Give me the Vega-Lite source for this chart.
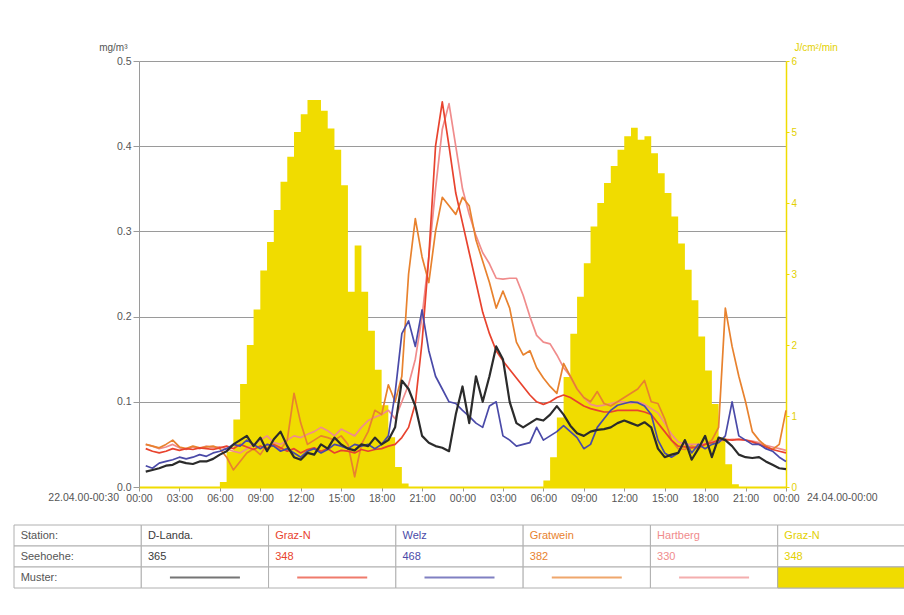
{
  "$schema": "https://vega.github.io/schema/vega-lite/v6.json",
  "background": "white",
  "padding": {"left": 13, "top": 42, "right": 0, "bottom": 0},
  "spacing": 20,
  "config": {
    "font": "Liberation Sans",
    "view": {"stroke": null}
  },
  "resolve": {"scale": {"color": "independent"}},
  "datasets": {
    "series": [
      {"h":0.5,"dl":0.018,"gn":0.045,"we":0.025,"gw":0.050,"hb":0.050,"rad":0},
      {"h":1.0,"dl":0.020,"gn":0.042,"we":0.022,"gw":0.048,"hb":0.048,"rad":0},
      {"h":1.5,"dl":0.022,"gn":0.040,"we":0.028,"gw":0.046,"hb":0.045,"rad":0},
      {"h":2.0,"dl":0.025,"gn":0.042,"we":0.030,"gw":0.050,"hb":0.047,"rad":0},
      {"h":2.5,"dl":0.026,"gn":0.045,"we":0.032,"gw":0.055,"hb":0.050,"rad":0},
      {"h":3.0,"dl":0.030,"gn":0.043,"we":0.035,"gw":0.047,"hb":0.046,"rad":0},
      {"h":3.5,"dl":0.028,"gn":0.045,"we":0.033,"gw":0.045,"hb":0.044,"rad":0},
      {"h":4.0,"dl":0.027,"gn":0.044,"we":0.035,"gw":0.048,"hb":0.047,"rad":0},
      {"h":4.5,"dl":0.030,"gn":0.046,"we":0.038,"gw":0.046,"hb":0.045,"rad":0},
      {"h":5.0,"dl":0.030,"gn":0.045,"we":0.036,"gw":0.047,"hb":0.048,"rad":0},
      {"h":5.5,"dl":0.033,"gn":0.044,"we":0.040,"gw":0.048,"hb":0.046,"rad":0},
      {"h":6.0,"dl":0.038,"gn":0.046,"we":0.042,"gw":0.045,"hb":0.047,"rad":0},
      {"h":6.5,"dl":0.042,"gn":0.048,"we":0.045,"gw":0.035,"hb":0.045,"rad":0.07},
      {"h":7.0,"dl":0.050,"gn":0.045,"we":0.050,"gw":0.020,"hb":0.042,"rad":0.50},
      {"h":7.5,"dl":0.055,"gn":0.050,"we":0.048,"gw":0.030,"hb":0.040,"rad":0.95},
      {"h":8.0,"dl":0.060,"gn":0.047,"we":0.055,"gw":0.040,"hb":0.045,"rad":1.45},
      {"h":8.5,"dl":0.048,"gn":0.044,"we":0.050,"gw":0.045,"hb":0.050,"rad":2.0},
      {"h":9.0,"dl":0.058,"gn":0.048,"we":0.045,"gw":0.038,"hb":0.055,"rad":2.5},
      {"h":9.5,"dl":0.042,"gn":0.045,"we":0.050,"gw":0.050,"hb":0.060,"rad":3.05},
      {"h":10.0,"dl":0.056,"gn":0.050,"we":0.048,"gw":0.048,"hb":0.052,"rad":3.45},
      {"h":10.5,"dl":0.065,"gn":0.046,"we":0.042,"gw":0.044,"hb":0.050,"rad":3.9},
      {"h":11.0,"dl":0.048,"gn":0.042,"we":0.045,"gw":0.055,"hb":0.055,"rad":4.3},
      {"h":11.5,"dl":0.035,"gn":0.045,"we":0.040,"gw":0.110,"hb":0.060,"rad":4.65},
      {"h":12.0,"dl":0.032,"gn":0.040,"we":0.035,"gw":0.075,"hb":0.058,"rad":5.0},
      {"h":12.5,"dl":0.040,"gn":0.044,"we":0.042,"gw":0.050,"hb":0.062,"rad":5.25},
      {"h":13.0,"dl":0.038,"gn":0.046,"we":0.045,"gw":0.055,"hb":0.065,"rad":5.45},
      {"h":13.5,"dl":0.050,"gn":0.042,"we":0.040,"gw":0.060,"hb":0.070,"rad":5.45},
      {"h":14.0,"dl":0.045,"gn":0.045,"we":0.044,"gw":0.058,"hb":0.066,"rad":5.3},
      {"h":14.5,"dl":0.058,"gn":0.040,"we":0.050,"gw":0.055,"hb":0.060,"rad":5.05},
      {"h":15.0,"dl":0.050,"gn":0.043,"we":0.048,"gw":0.060,"hb":0.068,"rad":4.75},
      {"h":15.5,"dl":0.045,"gn":0.042,"we":0.045,"gw":0.050,"hb":0.064,"rad":4.25},
      {"h":16.0,"dl":0.043,"gn":0.040,"we":0.050,"gw":0.012,"hb":0.060,"rad":2.75},
      {"h":16.5,"dl":0.050,"gn":0.044,"we":0.048,"gw":0.050,"hb":0.070,"rad":3.4},
      {"h":17.0,"dl":0.048,"gn":0.042,"we":0.050,"gw":0.065,"hb":0.078,"rad":2.75},
      {"h":17.5,"dl":0.058,"gn":0.044,"we":0.045,"gw":0.090,"hb":0.082,"rad":2.2},
      {"h":18.0,"dl":0.050,"gn":0.045,"we":0.050,"gw":0.085,"hb":0.085,"rad":1.65},
      {"h":18.5,"dl":0.055,"gn":0.048,"we":0.060,"gw":0.120,"hb":0.090,"rad":1.15},
      {"h":19.0,"dl":0.070,"gn":0.050,"we":0.110,"gw":0.100,"hb":0.080,"rad":0.7},
      {"h":19.5,"dl":0.125,"gn":0.058,"we":0.180,"gw":0.130,"hb":0.100,"rad":0.28},
      {"h":20.0,"dl":0.115,"gn":0.070,"we":0.195,"gw":0.250,"hb":0.120,"rad":0.05},
      {"h":20.5,"dl":0.095,"gn":0.098,"we":0.165,"gw":0.315,"hb":0.150,"rad":0},
      {"h":21.0,"dl":0.060,"gn":0.170,"we":0.208,"gw":0.270,"hb":0.200,"rad":0},
      {"h":21.5,"dl":0.052,"gn":0.270,"we":0.160,"gw":0.240,"hb":0.270,"rad":0},
      {"h":22.0,"dl":0.048,"gn":0.400,"we":0.130,"gw":0.300,"hb":0.350,"rad":0},
      {"h":22.5,"dl":0.046,"gn":0.452,"we":0.115,"gw":0.340,"hb":0.420,"rad":0},
      {"h":23.0,"dl":0.042,"gn":0.400,"we":0.100,"gw":0.330,"hb":0.450,"rad":0},
      {"h":23.5,"dl":0.085,"gn":0.345,"we":0.098,"gw":0.320,"hb":0.400,"rad":0},
      {"h":24.0,"dl":0.118,"gn":0.310,"we":0.090,"gw":0.340,"hb":0.350,"rad":0},
      {"h":24.5,"dl":0.075,"gn":0.275,"we":0.083,"gw":0.330,"hb":0.320,"rad":0},
      {"h":25.0,"dl":0.130,"gn":0.240,"we":0.075,"gw":0.290,"hb":0.295,"rad":0},
      {"h":25.5,"dl":0.100,"gn":0.205,"we":0.070,"gw":0.265,"hb":0.275,"rad":0},
      {"h":26.0,"dl":0.130,"gn":0.180,"we":0.095,"gw":0.240,"hb":0.262,"rad":0},
      {"h":26.5,"dl":0.165,"gn":0.160,"we":0.100,"gw":0.210,"hb":0.245,"rad":0},
      {"h":27.0,"dl":0.150,"gn":0.148,"we":0.060,"gw":0.230,"hb":0.244,"rad":0},
      {"h":27.5,"dl":0.100,"gn":0.138,"we":0.055,"gw":0.210,"hb":0.245,"rad":0},
      {"h":28.0,"dl":0.075,"gn":0.128,"we":0.048,"gw":0.170,"hb":0.245,"rad":0},
      {"h":28.5,"dl":0.070,"gn":0.118,"we":0.050,"gw":0.155,"hb":0.225,"rad":0},
      {"h":29.0,"dl":0.075,"gn":0.108,"we":0.052,"gw":0.160,"hb":0.200,"rad":0},
      {"h":29.5,"dl":0.080,"gn":0.100,"we":0.070,"gw":0.140,"hb":0.178,"rad":0},
      {"h":30.0,"dl":0.078,"gn":0.097,"we":0.055,"gw":0.128,"hb":0.170,"rad":0},
      {"h":30.5,"dl":0.085,"gn":0.100,"we":0.060,"gw":0.118,"hb":0.168,"rad":0.09},
      {"h":31.0,"dl":0.095,"gn":0.105,"we":0.065,"gw":0.110,"hb":0.155,"rad":0.42},
      {"h":31.5,"dl":0.085,"gn":0.108,"we":0.072,"gw":0.145,"hb":0.140,"rad":0.98},
      {"h":32.0,"dl":0.072,"gn":0.105,"we":0.065,"gw":0.130,"hb":0.130,"rad":1.55},
      {"h":32.5,"dl":0.063,"gn":0.100,"we":0.058,"gw":0.115,"hb":0.115,"rad":2.16},
      {"h":33.0,"dl":0.060,"gn":0.095,"we":0.045,"gw":0.105,"hb":0.105,"rad":2.68},
      {"h":33.5,"dl":0.065,"gn":0.092,"we":0.050,"gw":0.100,"hb":0.097,"rad":3.15},
      {"h":34.0,"dl":0.067,"gn":0.090,"we":0.070,"gw":0.112,"hb":0.095,"rad":3.67},
      {"h":34.5,"dl":0.068,"gn":0.088,"we":0.080,"gw":0.098,"hb":0.096,"rad":4.0},
      {"h":35.0,"dl":0.070,"gn":0.088,"we":0.090,"gw":0.095,"hb":0.098,"rad":4.28},
      {"h":35.5,"dl":0.075,"gn":0.090,"we":0.096,"gw":0.100,"hb":0.100,"rad":4.52},
      {"h":36.0,"dl":0.078,"gn":0.090,"we":0.098,"gw":0.105,"hb":0.100,"rad":4.75},
      {"h":36.5,"dl":0.075,"gn":0.090,"we":0.100,"gw":0.110,"hb":0.098,"rad":4.94},
      {"h":37.0,"dl":0.072,"gn":0.090,"we":0.099,"gw":0.115,"hb":0.100,"rad":5.06},
      {"h":37.5,"dl":0.076,"gn":0.088,"we":0.095,"gw":0.125,"hb":0.097,"rad":4.89},
      {"h":38.0,"dl":0.070,"gn":0.085,"we":0.085,"gw":0.100,"hb":0.092,"rad":4.94},
      {"h":38.5,"dl":0.045,"gn":0.075,"we":0.055,"gw":0.098,"hb":0.087,"rad":4.7},
      {"h":39.0,"dl":0.035,"gn":0.065,"we":0.040,"gw":0.080,"hb":0.075,"rad":4.42},
      {"h":39.5,"dl":0.038,"gn":0.055,"we":0.035,"gw":0.055,"hb":0.062,"rad":4.14},
      {"h":40.0,"dl":0.040,"gn":0.048,"we":0.040,"gw":0.045,"hb":0.053,"rad":3.81},
      {"h":40.5,"dl":0.055,"gn":0.047,"we":0.055,"gw":0.044,"hb":0.050,"rad":3.43},
      {"h":41.0,"dl":0.032,"gn":0.046,"we":0.040,"gw":0.048,"hb":0.050,"rad":3.06},
      {"h":41.5,"dl":0.045,"gn":0.047,"we":0.050,"gw":0.045,"hb":0.050,"rad":2.63},
      {"h":42.0,"dl":0.060,"gn":0.050,"we":0.045,"gw":0.050,"hb":0.051,"rad":2.12},
      {"h":42.5,"dl":0.035,"gn":0.052,"we":0.050,"gw":0.055,"hb":0.053,"rad":1.64},
      {"h":43.0,"dl":0.058,"gn":0.055,"we":0.052,"gw":0.070,"hb":0.054,"rad":1.17},
      {"h":43.5,"dl":0.055,"gn":0.056,"we":0.060,"gw":0.210,"hb":0.055,"rad":0.7},
      {"h":44.0,"dl":0.048,"gn":0.055,"we":0.100,"gw":0.165,"hb":0.056,"rad":0.32},
      {"h":44.5,"dl":0.038,"gn":0.056,"we":0.060,"gw":0.130,"hb":0.056,"rad":0.04},
      {"h":45.0,"dl":0.035,"gn":0.055,"we":0.055,"gw":0.100,"hb":0.055,"rad":0},
      {"h":45.5,"dl":0.034,"gn":0.053,"we":0.050,"gw":0.065,"hb":0.054,"rad":0},
      {"h":46.0,"dl":0.035,"gn":0.050,"we":0.050,"gw":0.055,"hb":0.052,"rad":0},
      {"h":46.5,"dl":0.030,"gn":0.047,"we":0.045,"gw":0.048,"hb":0.049,"rad":0},
      {"h":47.0,"dl":0.026,"gn":0.044,"we":0.042,"gw":0.044,"hb":0.047,"rad":0},
      {"h":47.5,"dl":0.022,"gn":0.042,"we":0.035,"gw":0.050,"hb":0.045,"rad":0},
      {"h":48.0,"dl":0.021,"gn":0.040,"we":0.030,"gw":0.090,"hb":0.043,"rad":0}
    ],
    "table": [
      {"col":"lab","row":"Station:","label":"Station:","key":"lab"},
      {"col":"lab","row":"Seehoehe:","label":"Seehoehe:","key":"lab"},
      {"col":"lab","row":"Muster:","label":"Muster:","key":"lab"},
      {"col":"c1","row":"Station:","label":"D-Landa.","key":"dl"},
      {"col":"c1","row":"Seehoehe:","label":"365","key":"dl"},
      {"col":"c1","row":"Muster:","label":"","key":"dl"},
      {"col":"c2","row":"Station:","label":"Graz-N","key":"gn"},
      {"col":"c2","row":"Seehoehe:","label":"348","key":"gn"},
      {"col":"c2","row":"Muster:","label":"","key":"gn"},
      {"col":"c3","row":"Station:","label":"Welz","key":"we"},
      {"col":"c3","row":"Seehoehe:","label":"468","key":"we"},
      {"col":"c3","row":"Muster:","label":"","key":"we"},
      {"col":"c4","row":"Station:","label":"Gratwein","key":"gw"},
      {"col":"c4","row":"Seehoehe:","label":"382","key":"gw"},
      {"col":"c4","row":"Muster:","label":"","key":"gw"},
      {"col":"c5","row":"Station:","label":"Hartberg","key":"hb"},
      {"col":"c5","row":"Seehoehe:","label":"330","key":"hb"},
      {"col":"c5","row":"Muster:","label":"","key":"hb"},
      {"col":"c6","row":"Station:","label":"Graz-N","key":"rad"},
      {"col":"c6","row":"Seehoehe:","label":"348","key":"rad"},
      {"col":"c6","row":"Muster:","label":"","key":"rad"}
    ],
    "ends": [
      {"h": 0, "label": "22.04.00-00:30"},
      {"h": 48, "label": "24.04.00-00:00"}
    ]
  },
  "vconcat": [
    {
      "width": 647,
      "height": 426,
      "data": {"name": "series"},
      "layer": [
        {
          "mark": {"type": "area", "interpolate": "step-before", "color": "#f0dc00"},
          "encoding": {
            "x": {
              "field": "h", "type": "quantitative",
              "scale": {"domain": [0, 48], "nice": false, "zero": false},
              "axis": {"values": [0, 3, 6, 9, 12, 15, 18, 21, 24, 27, 30, 33, 36, 39, 42, 45, 48], "labelExpr": "(datum.value % 24 < 10 ? '0' : '') + (datum.value % 24) + ':00'", "labelOverlap": false, "labelFlush": false, "labelFontSize": 10.5, "labelColor": "#555555", "domainColor": "#f0dc00", "domainWidth": 2, "tickColor": "#999999", "tickSize": 4, "grid": false, "title": null, "labelPadding": 2}
            },
            "y": {
              "field": "rad", "type": "quantitative",
              "scale": {"domain": [0, 6], "nice": false},
              "axis": {"orient": "right", "values": [0, 1, 2, 3, 4, 5, 6], "grid": false, "domainColor": "#f0dc00", "domainWidth": 1.5, "tickColor": "#f0dc00", "tickSize": 3, "labelColor": "#e3d000", "labelFontSize": 10, "title": "J/cm²/min", "titleAngle": 0, "titleAlign": "left", "titleX": 8, "titleY": -9, "titleColor": "#e3d000", "titleFontSize": 10, "titleFontWeight": "normal"}
            }
          }
        },
        {
          "transform": [{"fold": ["hb", "gw", "gn", "we"], "as": ["key", "v"]}],
          "mark": {"type": "line", "strokeWidth": 1.7, "strokeJoin": "round"},
          "encoding": {
            "x": {"field": "h", "type": "quantitative"},
            "y": {
              "field": "v", "type": "quantitative",
              "scale": {"domain": [0, 0.5], "nice": false},
              "axis": {"orient": "left", "values": [0, 0.1, 0.2, 0.3, 0.4, 0.5], "format": ".1f", "grid": true, "gridColor": "#9a9a9a", "domainColor": "#9a9a9a", "tickColor": "#9a9a9a", "tickSize": 6, "labelColor": "#555555", "labelFontSize": 10.5, "minExtent": 125, "maxExtent": 125, "title": "mg/m³", "titleAngle": 0, "titleAlign": "right", "titleX": -12, "titleY": -9, "titleColor": "#555555", "titleFontSize": 10, "titleFontWeight": "normal"}
            },
            "color": {
              "field": "key", "type": "nominal",
              "scale": {"domain": ["gn", "we", "gw", "hb"], "range": ["#e8432e", "#4a4aa8", "#e8822e", "#f08c8c"]},
              "legend": null
            }
          }
        },
        {
          "mark": {"type": "line", "strokeWidth": 2.2, "strokeJoin": "round", "color": "#2b2b2b"},
          "encoding": {
            "x": {"field": "h", "type": "quantitative"},
            "y": {"field": "dl", "type": "quantitative", "scale": {"domain": [0, 0.5], "nice": false}, "axis": null}
          }
        },
        {
          "data": {"name": "ends"},
          "transform": [{"filter": "datum.h == 0"}],
          "mark": {"type": "text", "align": "right", "baseline": "top", "dx": -20, "dy": 6, "fontSize": 10.5, "color": "#555555"},
          "encoding": {
            "x": {"field": "h", "type": "quantitative"},
            "y": {"datum": 0, "type": "quantitative", "scale": {"domain": [0, 1]}, "axis": null},
            "text": {"field": "label"}
          }
        },
        {
          "data": {"name": "ends"},
          "transform": [{"filter": "datum.h == 48"}],
          "mark": {"type": "text", "align": "left", "baseline": "top", "dx": 21, "dy": 6, "fontSize": 10.5, "color": "#555555"},
          "encoding": {
            "x": {"field": "h", "type": "quantitative"},
            "y": {"datum": 0, "type": "quantitative", "scale": {"domain": [0, 1]}, "axis": null},
            "text": {"field": "label"}
          }
        }
      ],
      "resolve": {"scale": {"y": "independent"}}
    },
    {
      "width": 766,
      "height": 63,
      "data": {"name": "table"},
      "encoding": {
        "x": {"field": "col", "type": "nominal", "scale": {"domain": ["lab", "c1", "c2", "c3", "c4", "c5", "c6"], "range": [-125, 766], "paddingInner": 0, "paddingOuter": 0}, "axis": null},
        "y": {"field": "row", "type": "nominal", "scale": {"domain": ["Station:", "Seehoehe:", "Muster:"], "paddingInner": 0, "paddingOuter": 0}, "axis": null}
      },
      "layer": [
        {
          "mark": {"type": "rect", "fill": "white", "stroke": "#b0b0b0", "strokeWidth": 1}
        },
        {
          "transform": [{"filter": "datum.key == 'rad' && datum.row == 'Muster:'"}],
          "mark": {"type": "rect", "fill": "#f0dc00", "stroke": "#b0b0b0", "strokeWidth": 1}
        },
        {
          "transform": [{"filter": "datum.row == 'Muster:' && datum.key != 'lab' && datum.key != 'rad'"}],
          "mark": {"type": "tick", "orient": "horizontal", "thickness": 2, "size": 70},
          "encoding": {
            "color": {"field": "key", "type": "nominal", "scale": {"domain": ["lab", "dl", "gn", "we", "gw", "hb", "rad"], "range": ["#555555", "#3a3a3a", "#e8432e", "#4a4aa8", "#e8822e", "#f08c8c", "#e3d000"]}, "legend": null}
          }
        },
        {
          "mark": {"type": "text", "align": "left", "baseline": "middle", "dx": -57, "fontSize": 11},
          "encoding": {
            "text": {"field": "label"},
            "color": {"field": "key", "type": "nominal", "scale": {"domain": ["lab", "dl", "gn", "we", "gw", "hb", "rad"], "range": ["#555555", "#3a3a3a", "#e8432e", "#4a4aa8", "#e8822e", "#f08c8c", "#e3d000"]}, "legend": null}
          }
        }
      ]
    }
  ]
}
